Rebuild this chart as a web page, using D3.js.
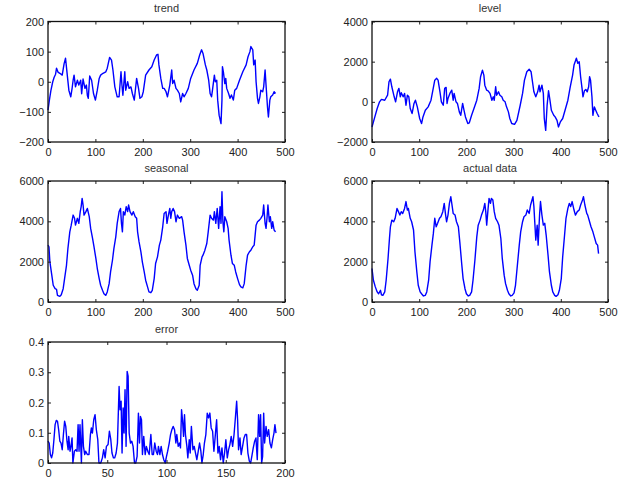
<!DOCTYPE html>
<html><head><meta charset="utf-8">
<script src="https://cdn.jsdelivr.net/npm/d3@7"></script>
<style>body{margin:0;background:#fff}svg{display:block}</style>
</head><body>
<script>
// ---- data ----
const trendData = [[0,-94],[3,-60],[6,-30],[10,0],[13,15],[16,25],[18,45],[21,32],[25,28],[30,22],[34,60],[37,78],[41,17],[44,-28],[48,-50],[51,-20],[53,5],[55,22],[58,-17],[62,5],[65,-11],[69,5],[71,-40],[74,9],[78,-22],[81,-11],[83,-45],[85,-55],[88,19],[92,5],[96,-39],[100,-61],[104,-28],[108,11],[111,22],[116,28],[122,33],[125,45],[130,81],[134,72],[137,39],[141,-17],[146,-50],[150,-50],[154,33],[156,-11],[158,-45],[162,33],[164,-28],[168,0],[171,-22],[175,-17],[178,-39],[182,-61],[187,11],[191,-22],[194,-55],[198,-50],[201,-33],[206,22],[213,39],[219,50],[224,72],[229,89],[232,91],[234,56],[238,11],[242,-22],[245,-22],[249,-33],[252,-50],[257,-11],[261,39],[263,-6],[266,5],[270,-22],[273,-28],[277,-39],[280,-67],[284,-39],[287,-50],[291,-39],[296,-22],[301,11],[308,39],[315,61],[320,89],[324,106],[327,94],[332,56],[335,39],[339,5],[342,-39],[345,-50],[347,-28],[351,22],[353,0],[356,5],[358,-61],[361,-111],[365,-139],[367,-61],[368,50],[370,33],[373,-6],[375,11],[377,-22],[381,-39],[384,-55],[387,-44],[391,-61],[394,-28],[398,-22],[404,5],[411,33],[418,56],[422,83],[426,100],[428,117],[432,106],[434,56],[437,72],[439,0],[442,-55],[444,-72],[447,-50],[449,-28],[453,-33],[455,-17],[458,39],[460,-11],[463,-83],[465,-117],[468,-61],[470,-50],[474,-44],[477,-33],[480,-39]];

const levelData = [[0,-1250],[6,-750],[11,-330],[16,0],[20,120],[27,80],[33,330],[36,1000],[39,1130],[42,750],[47,250],[50,0],[54,500],[57,670],[60,250],[62,450],[66,250],[69,420],[72,-170],[75,330],[78,250],[81,-330],[85,-580],[89,-80],[92,80],[96,-250],[101,-830],[105,-1080],[108,-750],[113,-420],[119,-250],[125,80],[129,580],[133,1080],[137,1170],[140,1080],[144,500],[147,0],[151,-170],[154,670],[157,720],[159,-80],[161,170],[165,420],[169,580],[172,80],[174,420],[178,0],[181,-80],[185,-500],[188,-670],[192,-80],[195,-420],[198,-750],[203,-1080],[206,-1050],[211,-670],[216,-330],[222,80],[227,670],[230,1250],[234,1580],[237,1330],[239,830],[243,580],[246,550],[250,420],[254,80],[257,250],[259,80],[262,750],[264,330],[268,500],[271,330],[275,250],[278,80],[282,0],[285,-250],[289,-500],[292,-830],[296,-1080],[302,-1120],[307,-920],[314,-170],[319,420],[323,1080],[328,1500],[333,1620],[337,1500],[340,1000],[343,500],[347,250],[351,500],[354,830],[356,500],[360,830],[363,420],[365,-830],[368,-1420],[371,-170],[374,550],[377,80],[380,-420],[385,-670],[388,-750],[392,-920],[395,-1250],[399,-1000],[404,-830],[409,-420],[415,80],[420,750],[425,1330],[428,1830],[433,2170],[436,1920],[439,2000],[442,1250],[445,670],[447,250],[450,550],[453,620],[456,500],[459,750],[461,1250],[463,1080],[466,250],[468,-670],[471,-250],[474,-420],[477,-580],[479,-670],[481,-750]];

const seasonalData = [[0,2820],[2,2740],[4,1990],[8,1330],[11,830],[15,660],[18,630],[20,330],[25,280],[28,360],[32,660],[35,1160],[39,1820],[42,2650],[46,3480],[49,3810],[53,4310],[56,4150],[58,3810],[62,4150],[65,3900],[68,4480],[70,4730],[72,5140],[74,4810],[76,4310],[80,4480],[83,4640],[87,4230],[90,3650],[94,3150],[97,2740],[101,2160],[104,1660],[108,1160],[111,830],[115,580],[118,410],[122,330],[125,500],[129,910],[132,1490],[136,2070],[139,2650],[143,3230],[146,3900],[150,4480],[153,4640],[155,3900],[157,3480],[159,4480],[162,4310],[165,4730],[168,4480],[170,4810],[173,4480],[177,4310],[180,4480],[184,4230],[187,4150],[189,3480],[192,2990],[196,2490],[199,1990],[203,1490],[206,1080],[210,750],[213,500],[217,460],[220,580],[224,1160],[227,1910],[231,2240],[235,2820],[238,3070],[242,3730],[245,4390],[249,4480],[251,3900],[254,4310],[257,4640],[259,4150],[261,4480],[264,4640],[267,4480],[270,3980],[273,4310],[277,4150],[282,4230],[284,4060],[287,3480],[291,2820],[294,2160],[298,1820],[301,1580],[305,1330],[308,910],[312,660],[315,580],[319,830],[321,1820],[325,2240],[327,2320],[331,2570],[335,2900],[338,3480],[342,4310],[345,4150],[349,4060],[351,4480],[354,3900],[357,4640],[360,3650],[363,4730],[365,3900],[367,5470],[369,3980],[371,3480],[373,4230],[377,3980],[380,3650],[382,3070],[386,2320],[389,1910],[393,1820],[396,1490],[400,1160],[404,860],[407,750],[411,700],[414,910],[418,1820],[421,2320],[425,2490],[428,2570],[432,2740],[435,2820],[439,3810],[442,3980],[446,4060],[449,4150],[453,4310],[455,4810],[458,3900],[460,3650],[462,4150],[464,4810],[467,3980],[469,4230],[472,3650],[474,3980],[477,3570],[480,3480]];

const actualData = [[0,1660],[3,1080],[7,750],[11,500],[14,410],[18,580],[20,360],[23,330],[27,500],[30,1080],[34,2160],[37,3150],[39,3730],[42,4060],[46,3980],[49,4150],[53,4640],[56,4480],[59,4310],[62,4480],[65,4390],[69,4640],[72,4980],[75,4560],[77,4640],[81,4150],[84,3980],[88,3570],[91,2490],[95,1490],[98,830],[102,500],[105,410],[109,300],[113,330],[116,500],[120,1080],[123,1990],[127,2820],[130,3400],[133,4150],[136,3730],[139,3900],[143,4150],[146,4230],[150,4480],[153,4890],[156,4310],[158,3980],[161,4310],[164,4890],[167,5220],[170,4730],[172,4390],[176,4310],[179,3980],[183,3730],[186,2990],[190,1910],[193,1160],[197,660],[200,410],[204,300],[207,330],[211,500],[214,1080],[218,2070],[222,3230],[225,3810],[229,4060],[232,4310],[236,4560],[239,4890],[241,4480],[243,3810],[246,4640],[248,5140],[251,4890],[253,5140],[256,5060],[259,4480],[262,4150],[266,3980],[269,3810],[273,3150],[276,2160],[280,1330],[283,910],[287,580],[290,410],[294,300],[297,330],[301,450],[304,830],[308,1820],[312,2820],[315,3480],[319,3980],[322,4230],[326,4310],[329,4560],[333,4390],[336,4810],[339,5060],[341,5220],[343,4730],[345,3900],[347,3070],[350,3810],[352,2820],[355,4310],[357,4980],[360,4310],[363,3810],[366,3900],[369,3320],[373,2320],[376,1490],[380,830],[383,500],[387,330],[390,280],[394,360],[397,580],[401,1160],[404,2240],[408,3320],[411,4150],[415,4640],[418,4890],[421,4730],[424,4980],[428,4560],[431,4310],[435,4480],[439,4560],[442,4810],[446,5060],[448,5220],[451,4810],[455,4390],[457,4310],[461,3980],[464,3730],[468,3480],[471,3230],[475,2900],[478,2820],[480,2400]];

const errorData = [[0,0.072],[1,0.066],[2,0.028],[3,0.017],[4,0.033],[5,0.077],[6,0.127],[7,0.141],[8,0.138],[9,0.110],[10,0.072],[11,0.066],[12,0.044],[13,0.094],[14,0.138],[15,0.121],[16,0.072],[17,0.044],[17.5,0.088],[18.6,0.039],[19.4,0.055],[20.3,0.083],[21,0],[22.3,0.039],[23.4,0.044],[24.5,0.039],[25.4,0.127],[26.2,0.039],[27,0.127],[28.2,0],[29,0.143],[29.9,0.055],[31,0.028],[31.8,0.039],[33.2,0.028],[34.6,0.028],[35.8,0.094],[36.6,0.116],[37.5,0.099],[38.6,0.143],[39.7,0.160],[40.8,0.110],[42,0.077],[43,0],[44.5,0],[45.9,0.017],[47,0.044],[48.2,0.017],[49.3,0.055],[50.7,0.061],[51.8,0.105],[53,0.077],[54,0.033],[55.2,0.017],[56.3,0.017],[57.5,0.033],[58.6,0.066],[60,0.253],[60.8,0.176],[61.7,0.204],[62.5,0.033],[63.4,0.182],[64.2,0.099],[65,0.242],[65.9,0.055],[66.8,0.303],[67.6,0.287],[68.5,0.099],[69.6,0.066],[70.7,0.072],[71.8,0.055],[73,0],[74,0],[75.2,0.022],[76.3,0.165],[77.2,0.066],[78,0.154],[78.9,0.143],[79.7,0.028],[80.8,0.088],[82,0.028],[83,0.055],[84.2,0.039],[85.4,0.028],[86.8,0.094],[87.9,0.028],[89,0.028],[90.1,0.066],[91.3,0.039],[92.4,0.028],[93.2,0.055],[94.4,0.028],[95.5,0.055],[96.6,0.028],[97.7,0.011],[98.9,0],[100,0.022],[101,0.039],[102.3,0.066],[103.4,0.094],[104.5,0.110],[105.6,0.121],[106.8,0.110],[107.9,0.066],[108.7,0.094],[109.9,0.055],[111,0.066],[111.8,0.050],[112.7,0.176],[113.5,0.143],[114.4,0.088],[115.2,0.160],[116,0.094],[117.2,0.055],[118,0.017],[119.2,0.077],[120,0.033],[121,0.121],[122.3,0.044],[123.4,0.055],[124.5,0.033],[125.6,0.011],[126.8,0.039],[127.9,0.066],[129,0.039],[129.9,0],[131,0.028],[132,0.066],[133.2,0.094],[134.4,0.165],[135.5,0.149],[136.6,0.165],[137.7,0.116],[138.9,0.105],[140,0.039],[141,0.083],[142.3,0.143],[143.4,0.033],[144.5,0.055],[145.6,0.011],[146.8,0.050],[147.9,0],[149,0.033],[150.1,0.077],[151.3,0.017],[152.4,0.044],[153.5,0.061],[154.6,0.088],[155.8,0.055],[157,0.094],[158,0.143],[159.2,0.204],[160,0.143],[160.8,0.044],[162,0.083],[163,0.028],[164.2,0.055],[165.4,0.083],[166.5,0.094],[167.6,0.094],[168.7,0.033],[169.9,0.006],[171,0],[172,0.022],[173.2,0.050],[174.4,0.072],[175.5,0.083],[176.6,0.011],[177.7,0.160],[178.6,0.088],[179.4,0.160],[180.3,0],[181.1,0.022],[182,0.165],[182.8,0.066],[184,0.121],[185,0.088],[186.2,0.110],[187.3,0.066],[188.5,0.050],[189.6,0.077],[190.7,0.099],[191.5,0.127],[192.4,0.099]];

const titles = ["trend", "level", "seasonal", "actual data", "error"];
const xTicks500 = [0, 100, 200, 300, 400, 500];
const xTicks200 = [0, 50, 100, 150, 200];
const trendTicks = [-200, -100, 0, 100, 200];
const levelTicks = [-2000, 0, 2000, 4000];
const seasTicks = [0, 2000, 4000, 6000];
const errTicks = [0, 0.1, 0.2, 0.3, 0.4];

// ---- layout ----
const W = 622, H = 486;
const svg = d3.select("body").append("svg").attr("width", W).attr("height", H)
  .style("font-family", "'Liberation Sans', Arial, Helvetica, sans-serif");

const panels = [
  {title: titles[0], data: trendData, x0: 48, x1: 285, y0: 21.5, y1: 142, xd: [0, 500], yd: [-200, 200], xt: xTicks500, yt: trendTicks},
  {title: titles[1], data: levelData, x0: 372, x1: 608, y0: 21.5, y1: 142, xd: [0, 500], yd: [-2000, 4000], xt: xTicks500, yt: levelTicks},
  {title: titles[2], data: seasonalData, x0: 48, x1: 285, y0: 181, y1: 302, xd: [0, 500], yd: [0, 6000], xt: xTicks500, yt: seasTicks},
  {title: titles[3], data: actualData, x0: 372, x1: 608, y0: 181, y1: 302, xd: [0, 500], yd: [0, 6000], xt: xTicks500, yt: seasTicks},
  {title: titles[4], data: errorData, x0: 48, x1: 285, y0: 342, y1: 463, xd: [0, 200], yd: [0, 0.4], xt: xTicks200, yt: errTicks}
];

const fmt = v => (v < 0 ? "\u2212" + Math.abs(v) : String(v));

panels.forEach(p => {
  const x = d3.scaleLinear().domain(p.xd).range([p.x0, p.x1]);
  const y = d3.scaleLinear().domain(p.yd).range([p.y1, p.y0]);
  const g = svg.append("g");

  // line
  g.append("path").datum(p.data)
    .attr("fill", "none").attr("stroke", "#0000ff").attr("stroke-width", 1.4)
    .attr("stroke-linejoin", "round")
    .attr("d", d3.line().x(d => x(d[0])).y(d => y(d[1])));

  const tl = 3;
  const bx = g.append("g").attr("transform", `translate(0,${p.y1})`)
    .call(d3.axisBottom(x).tickValues(p.xt).tickSizeInner(-tl).tickSizeOuter(0).tickPadding(6).tickFormat(fmt));
  const tx = g.append("g").attr("transform", `translate(0,${p.y0})`)
    .call(d3.axisTop(x).tickValues(p.xt).tickSizeInner(-tl).tickSizeOuter(0).tickFormat(""));
  const ly = g.append("g").attr("transform", `translate(${p.x0},0)`)
    .call(d3.axisLeft(y).tickValues(p.yt).tickSizeInner(-tl).tickSizeOuter(0).tickPadding(4).tickFormat(fmt));
  const ry = g.append("g").attr("transform", `translate(${p.x1},0)`)
    .call(d3.axisRight(y).tickValues(p.yt).tickSizeInner(-tl).tickSizeOuter(0).tickFormat(""));
  [bx, tx, ly, ry].forEach(a => {
    a.select(".domain").remove();
    a.selectAll("line").attr("stroke", "#222");
    a.selectAll("text").attr("fill", "#222").style("font-size", "11px");
  });

  g.append("rect").attr("x", p.x0).attr("y", p.y0)
    .attr("width", p.x1 - p.x0).attr("height", p.y1 - p.y0)
    .attr("fill", "none").attr("stroke", "#111").attr("stroke-width", 1.3);

  g.append("text").attr("x", (p.x0 + p.x1) / 2).attr("y", p.y0 - 9.5)
    .attr("text-anchor", "middle").attr("fill", "#333").style("font-size", "11px")
    .text(p.title);
});
</script>
</body></html>
